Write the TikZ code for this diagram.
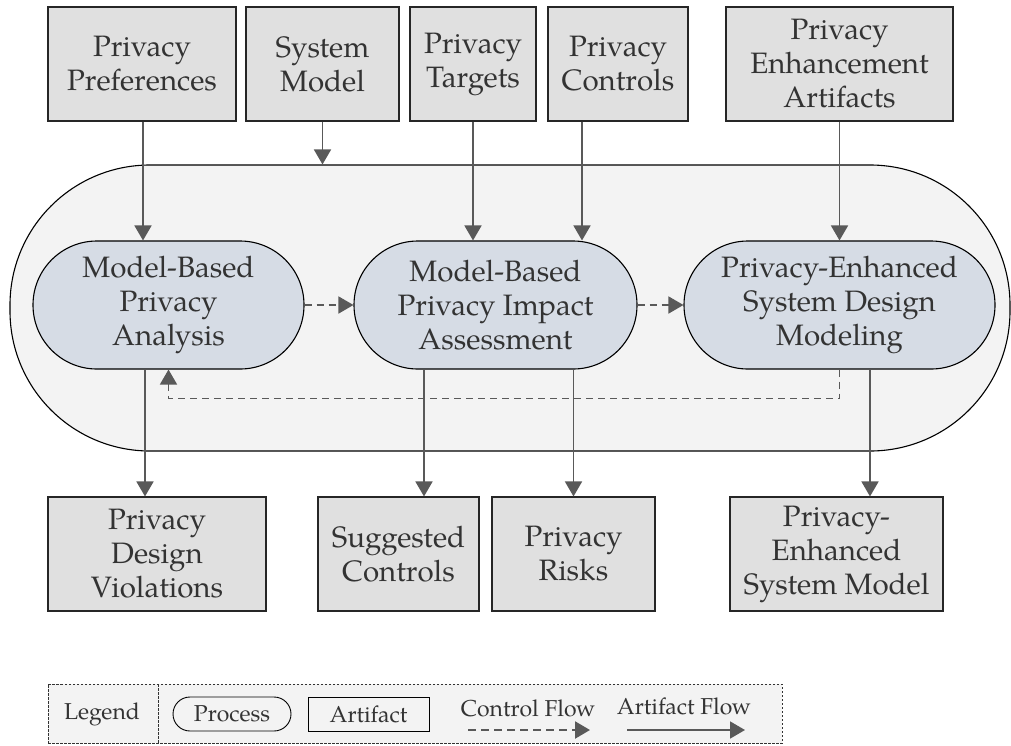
\documentclass[tikz,border=0pt]{standalone}
\usepackage{fontspec}
\setmainfont{texgyrepagella}[Extension=.otf,UprightFont=*-regular]
\usetikzlibrary{arrows.meta}
\definecolor{txt}{HTML}{333333}
\definecolor{boxfill}{HTML}{E0E0E0}
\definecolor{procfill}{HTML}{D6DCE5}
\definecolor{contfill}{HTML}{F3F3F3}
\definecolor{arr}{HTML}{595959}
\tikzset{
  artbox/.style={draw=black!85,line width=1.1pt,fill=boxfill,text=txt,align=center,
    minimum height=114pt,inner sep=0pt,font=\fontsize{29.5}{34}\selectfont},
  procbox/.style={draw=black,line width=1.1pt,fill=procfill,text=txt,align=center,
    minimum height=128pt,inner sep=0pt,rounded corners=63.9pt,font=\fontsize{29.5}{34}\selectfont},
  container/.style={draw=black,line width=1.1pt,fill=contfill,rounded corners=140pt,inner sep=0pt},
  af/.style={draw=arr,line width=1.7pt,-{Triangle[length=15pt,width=17pt]}},
  cf/.style={draw=arr,line width=1.6pt,dash pattern=on 7pt off 5pt,-{Triangle[length=15pt,width=17pt]}},
  legtext/.style={text=txt,inner sep=0pt,font=\fontsize{23}{26}\selectfont},
}
\begin{document}
\begin{tikzpicture}[x=1pt,y=-1pt]
\useasboundingbox (0,0) rectangle (1011,745);
% container
\node[container,minimum width=1000pt,minimum height=286pt] (cont) at (510,308) {};
% top artifacts
\node[artbox,minimum width=188pt] (pp) at (142,64) {Privacy\\Preferences};
\node[artbox,minimum width=153pt] (sm) at (322.5,64) {System\\Model};
\node[artbox,minimum width=126pt] (pt) at (473,64) {Privacy\\Targets};
\node[artbox,minimum width=140pt] (pc) at (618,64) {Privacy\\Controls};
\node[artbox,minimum width=227pt] (pea) at (839.5,64) {Privacy\\Enhancement\\Artifacts};
% processes
\node[procbox,minimum width=271pt] (p1) at (168.5,305) {Model-Based\\Privacy\\Analysis};
\node[procbox,minimum width=283pt] (p2) at (495.5,305) {Model-Based\\Privacy Impact\\Assessment};
\node[procbox,minimum width=311pt] (p3) at (839.5,305) {Privacy-Enhanced\\System Design\\Modeling};
% bottom artifacts
\node[artbox,minimum width=218pt] (pdv) at (157,554) {Privacy\\Design\\Violations};
\node[artbox,minimum width=161pt] (sc) at (398.5,554) {Suggested\\Controls};
\node[artbox,minimum width=163pt] (pr) at (573.5,554) {Privacy\\Risks};
\node[artbox,minimum width=213pt] (pesm) at (836.5,554) {Privacy-\\Enhanced\\System Model};
% inputs
\draw[af] ([xshift=1pt]pp.south) -- ([xshift=1pt]pp.south |- p1.north);
\draw[af] (sm.south) -- (sm.south |- cont.north);
\draw[af] (pt.south) -- (pt.south |- p2.north);
\draw[af] ([xshift=-36pt]pc.south) -- ([xshift=-36pt]pc.south |- p2.north);
\draw[af] (pea.south) -- (pea.south |- p3.north);
% control flow
\draw[cf] (p1.east) -- (p2.west);
\draw[cf] (p2.east) -- (p3.west);
\draw[cf] (p3.south) -- ++(0,29) -| (p1.south);
% outputs
\draw[af] ([xshift=-23.5pt]p1.south) -- ([xshift=-23.5pt]p1.south |- pdv.north);
\draw[af] ([xshift=-71.5pt]p2.south) -- ([xshift=-71.5pt]p2.south |- sc.north);
\draw[af] (p2.south -| pr.north) -- (pr.north);
\draw[af] ([xshift=30.5pt]p3.south) -- ([xshift=30.5pt]p3.south |- pesm.north);
% legend
\node[draw=black!80,line width=0.9pt,dash pattern=on 2.5pt off 1.5pt,fill=contfill,
  minimum width=734pt,minimum height=59pt,inner sep=0pt] (leg) at (415,713.5) {};
\coordinate (divt) at (158,684);
\coordinate (divb) at (158,743);
\draw[draw=black!80,line width=0.9pt,dash pattern=on 2.5pt off 1.5pt] (divt) -- (divb);
\node[legtext] (legl) at (102,714) {Legend};
\node[legtext,draw=black,line width=0.9pt,rounded corners=17pt,minimum width=118pt,minimum height=34pt] (legp) at (232,714) {Process};
\node[legtext,draw=black,line width=0.9pt,minimum width=121pt,minimum height=34pt] (lega) at (368.5,714) {Artifact};
\node[legtext] (legc) at (528,708) {Control Flow};
\node[legtext] (legf) at (684,706) {Artifact Flow};
\coordinate (c1) at (468,730);
\coordinate (c2) at (590,730);
\coordinate (f1) at (627,730);
\coordinate (f2) at (745,730);
\draw[cf,dash pattern=on 8pt off 5pt,line width=2.2pt] (c1) -- (c2);
\draw[af] (f1) -- (f2);
\end{tikzpicture}
\end{document}
